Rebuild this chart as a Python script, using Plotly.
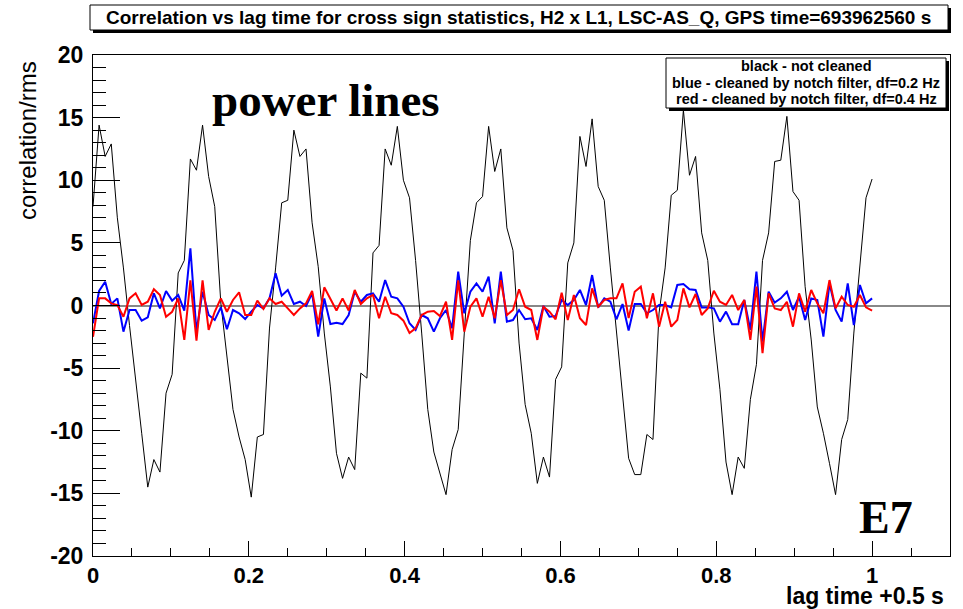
import plotly.graph_objects as go

# ---------------- data ----------------
lag_step = 1.0 / 128
n_points = 129
lag = [k * lag_step for k in range(n_points)]

not_cleaned = [
    7.9, 14.4, 11.9, 12.9, 7.0, 3.0, -1.6, -6.1, -10.2, -14.5,
    -12.3, -13.3, -7.0, -5.5, 2.6, 3.6, 11.7, 10.8, 14.4, 10.3,
    7.9, 0.2, -4.0, -8.3, -10.5, -12.3, -15.3, -10.5, -10.3, -1.8,
    3.0, 8.2, 8.4, 14.0, 11.9, 12.5, 6.6, 3.1, -2.2, -6.5,
    -11.8, -13.8, -12.1, -13.1, -5.4, -5.8, 4.2, 4.8, 12.5, 11.2,
    14.3, 10.0, 8.6, 3.6, -2.2, -8.3, -11.7, -13.4, -15.1, -11.5,
    -9.9, -2.2, 5.2, 8.2, 8.7, 14.3, 10.7, 12.5, 6.2, 4.4,
    -3.0, -7.9, -10.2, -14.2, -12.1, -13.7, -5.9, -4.9, 3.4, 5.0,
    13.5, 11.1, 14.9, 9.5, 8.4, 3.0, -2.2, -7.5, -12.2, -13.5,
    -13.5, -10.3, -10.7, -0.6, 3.0, 8.8, 9.2, 15.6, 10.4, 11.9,
    5.8, 3.6, -2.2, -6.7, -12.5, -15.1, -12.1, -13.0, -7.5, -4.7,
    3.6, 5.8, 11.5, 11.6, 15.1, 9.1, 8.4, 1.5, -2.75, -8.1,
    -10.2, -12.6, -15.1, -10.7, -9.1, -2.2, 3.1, 8.6, 10.1,
]

notch_02hz = [
    -1.42, 1.16, 1.9, 0.12, 0.57, -2.09, -0.36, -0.36, -1.21, -0.94,
    0.97, -0.23, 1.16, 0.39, 0.84, -0.41, 4.56, -2.09, 1.1, -0.76,
    -1.16, -0.15, -1.9, -0.36, -0.62, -1.08, -0.49, 0.04, -0.23, 0.57,
    2.57, 0.78, 1.24, 0.12, 0.3, -0.04, 0.97, -2.49, 0.57, -1.48,
    -1.37, -1.48, -0.76, 1.1, 0.3, 0.84, 0.97, 0.3, 2.03, 0.7,
    0.57, -0.1, -1.42, -1.95, -0.76, -1.02, -2.09, -1.02, -0.36, -1.82,
    2.7, -0.62, 1.1, 1.77, 1.1, 2.3, -1.42, 2.7, -1.29, -1.16,
    -0.36, -1.1, -1.02, -1.95, -0.04, -0.9, -0.84, 0.44, 0.04, 0.44,
    1.24, 0.04, 2.43, -0.15, 0.57, 0.3, -1.1, 0.12, -2.0, 0.12,
    0.12, -0.62, -0.36, 0.04, 0.04, -0.15, 1.64, 1.72, 1.29, 1.24,
    -0.15, -0.15, -0.23, -1.29, -0.49, -1.5, -1.5, 0.44, -1.95, 2.7,
    -2.89, 1.1, 0.23, 0.57, 1.1, -0.36, 0.7, -1.16, 0.57, 0.44,
    -2.49, 1.77, -0.36, -1.29, 1.77, -1.56, 1.64, 0.17, 0.57,
]

notch_04hz = [
    -2.5, 0.57, 0.57, 0.17, 0.04, -0.9, 0.57, 0.97, 0.04, 0.3,
    1.3, 0.84, -0.9, -0.5, 0.57, -2.75, 2.0, -2.8, 2.0, -1.95,
    -0.5, 0.57, -0.5, 0.44, 1.05, -0.76, -0.76, 0.39, -0.28, 0.57,
    0.12, 0.3, -0.23, -0.76, -0.23, 0.17, 1.16, -1.5, 1.45, 0.57,
    -0.4, 0.57, -0.4, 1.24, 0.12, 0.57, 0.84, -1.02, 0.7, -0.62,
    -0.76, -1.21, -2.2, -1.82, -0.76, -0.49, -0.44, -0.84, 0.3, -2.75,
    2.0, -2.09, -0.1, 0.57, -0.9, 0.7, -1.02, 2.03, -0.76, -0.36,
    1.29, -0.1, -0.36, -2.75, -0.1, -0.49, -1.1, 1.02, -1.16, 0.84,
    -1.02, -1.56, 1.37, -0.1, 0.44, 0.57, 0.57, 1.77, -1.0, 1.1,
    1.5, -1.02, 0.97, -1.69, 0.3, -1.69, -1.16, 1.37, -0.15, 0.92,
    -0.76, -0.23, 1.18, 0.3, 0.04, 0.84, -0.36, 0.44, -2.75, 1.5,
    -3.8, 0.97, -0.23, -0.36, 0.3, -1.69, 0.97, -0.49, 1.24, 0.17,
    -0.62, 2.03, -0.23, 0.7, 0.04, -0.1, 0.84, -0.15, -0.41,
]

x_tick_vals = [0, 0.2, 0.4, 0.6, 0.8, 1.0]
x_tick_text = ["0", "0.2", "0.4", "0.6", "0.8", "1"]
y_tick_vals = [-20, -15, -10, -5, 0, 5, 10, 15, 20]
y_tick_text = ["-20", "-15", "-10", "-5", "0", "5", "10", "15", "20"]

title_text = "Correlation vs lag time for cross sign statistics, H2 x L1, LSC-AS_Q, GPS time=693962560 s"
legend_lines = [
    "black - not cleaned",
    "blue - cleaned by notch filter, df=0.2 Hz",
    "red - cleaned by notch filter, df=0.4 Hz",
]

# ---------------- figure ----------------
W, H = 963, 609
ML, MR, MT, MB = 93, 13, 55, 53
PW, PH = W - ML - MR, H - MT - MB


def px(X):
    return (X - ML) / PW


def py(Y):
    return (H - MB - Y) / PH


SANS = "Liberation Sans, Arial, sans-serif"
SERIF = "Liberation Serif, Times New Roman, serif"

fig = go.Figure()
fig.add_trace(go.Scatter(x=lag, y=not_cleaned, mode="lines",
                         line=dict(color="black", width=1), showlegend=False))
fig.add_trace(go.Scatter(x=lag, y=notch_02hz, mode="lines",
                         line=dict(color="#0000ff", width=2), showlegend=False))
fig.add_trace(go.Scatter(x=lag, y=notch_04hz, mode="lines",
                         line=dict(color="#ff0000", width=2), showlegend=False))

x_tick_font = dict(family=SANS, size=22, color="black", weight="bold")
y_tick_font = dict(family=SANS, size=23, color="black", weight="bold")

fig.update_layout(
    width=W, height=H,
    margin=dict(l=ML, r=MR, t=MT, b=MB, pad=0),
    paper_bgcolor="white", plot_bgcolor="white",
    showlegend=False,
    xaxis=dict(
        range=[0, 1.1], showgrid=False, zeroline=False,
        showline=True, mirror=True, linecolor="black", linewidth=1,
        ticks="inside", ticklen=15, tickwidth=1, tickcolor="black",
        tickvals=x_tick_vals, ticktext=x_tick_text,
        tickfont=x_tick_font, ticklabelstandoff=0,
        minor=dict(dtick=0.05, tick0=0, ticks="inside", ticklen=8,
                   tickcolor="black", tickwidth=1, showgrid=False),
    ),
    yaxis=dict(
        range=[-20, 20], showgrid=False,
        zeroline=True, zerolinecolor="#888888", zerolinewidth=2,
        showline=True, mirror=True, linecolor="black", linewidth=1,
        ticks="inside", ticklen=27, tickwidth=1, tickcolor="black",
        tickvals=y_tick_vals, ticktext=y_tick_text,
        tickfont=y_tick_font, ticklabelstandoff=4,
        minor=dict(dtick=1, tick0=0, ticks="inside", ticklen=13,
                   tickcolor="black", tickwidth=1, showgrid=False),
    ),
)

shapes = []
# title box with shadow
shapes.append(dict(type="rect", xref="paper", yref="paper",
                   x0=px(93), x1=px(951), y0=py(33), y1=py(8),
                   fillcolor="black", line=dict(width=0), layer="above"))
shapes.append(dict(type="rect", xref="paper", yref="paper",
                   x0=px(90), x1=px(948), y0=py(30), y1=py(5),
                   fillcolor="white", line=dict(color="black", width=1), layer="above"))
# legend box with shadow
shapes.append(dict(type="rect", xref="paper", yref="paper",
                   x0=px(669), x1=px(949), y0=py(111), y1=py(61),
                   fillcolor="black", line=dict(width=0), layer="above"))
shapes.append(dict(type="rect", xref="paper", yref="paper",
                   x0=px(666), x1=px(946), y0=py(108), y1=py(58),
                   fillcolor="white", line=dict(color="black", width=1), layer="above"))
fig.update_layout(shapes=shapes)

ann = []
ann.append(dict(xref="paper", yref="paper", x=px(518), y=py(17.5),
                text="<b>" + title_text + "</b>", showarrow=False,
                xanchor="center", yanchor="middle",
                font=dict(family=SANS, size=19, color="black")))
for txt, yy in zip(legend_lines, [66, 83, 99]):
    ann.append(dict(xref="paper", yref="paper", x=px(806), y=py(yy),
                    text="<b>" + txt + "</b>", showarrow=False,
                    xanchor="center", yanchor="middle",
                    font=dict(family=SANS, size=14.5, color="black")))
ann.append(dict(xref="paper", yref="paper", x=px(326), y=py(100),
                text="<b>power lines</b>", showarrow=False, xanchor="center", yanchor="middle",
                font=dict(family=SERIF, size=47, color="black")))
ann.append(dict(xref="paper", yref="paper", x=px(886), y=py(517),
                text="<b>E7</b>", showarrow=False, xanchor="center", yanchor="middle",
                font=dict(family=SERIF, size=46, color="black")))
ann.append(dict(xref="paper", yref="paper", x=px(946), y=py(596),
                text="<b>lag time +0.5 s</b>", showarrow=False, xanchor="right", yanchor="middle",
                font=dict(family=SANS, size=23, color="black")))
ann.append(dict(xref="paper", yref="paper", x=px(27), y=py(141),
                text="correlation/rms", showarrow=False, textangle=-90,
                xanchor="center", yanchor="middle",
                font=dict(family=SANS, size=24, color="black")))
fig.update_layout(annotations=ann)

fig.write_html("out.html")
